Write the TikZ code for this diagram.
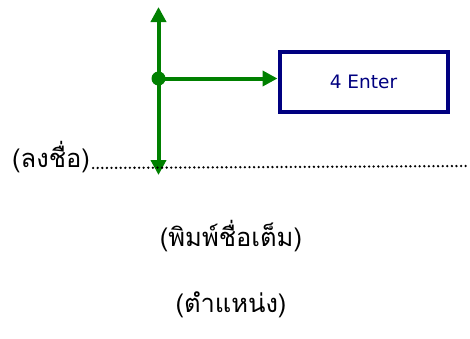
\documentclass[tikz,border=0pt]{standalone}
\usepackage{fontspec}
\newfontfamily\thaifont[Script=Thai]{Loma}
\newfontfamily\latfont{DejaVu Sans}
\usetikzlibrary{arrows.meta}
\definecolor{grn}{RGB}{0,128,0}
\definecolor{navy}{RGB}{0,0,128}
\tikzset{
  garrow/.style={draw=grn, line width=4pt, -{Triangle[length=15pt,width=15pt]}},
  thaitxt/.style={font=\thaifont\fontsize{25.5}{30}\selectfont, inner sep=0pt},
  entbox/.style={draw=navy, line width=4pt, minimum width=168pt, minimum height=60pt, inner sep=0pt, text=navy, font=\latfont\fontsize{18.5}{22}\selectfont}
}
\begin{document}
\begin{tikzpicture}[x=1pt,y=-1pt]
\useasboundingbox (0,0) rectangle (470,338);
\coordinate (c) at (158.5,78.5);
\coordinate (top) at (158.5,7);
\coordinate (bot) at (158.5,175);
\node[entbox] (ent) at (363.5,81.5) {4 Enter};
\draw[garrow] (c) -- (top);
\draw[garrow] (c) -- (bot);
\draw[garrow] (c) -- (c -| ent.west);
\fill[grn] (c) circle (7pt);
\node[thaitxt, anchor=base west] (sig) at (12,167) {(ลงชื่อ)};
\coordinate (dend) at (466,166);
\draw[line width=2.6pt, line cap=round, dash pattern=on 0pt off 4.6pt] ([xshift=3pt,yshift=-1pt]sig.base east) -- (dend);
\node[thaitxt] (name) at (231,236) {(พิมพ์ชื่อเต็ม)};
\node[thaitxt] (pos) at (231,305) {(ตำแหน่ง)};
\end{tikzpicture}
\end{document}
